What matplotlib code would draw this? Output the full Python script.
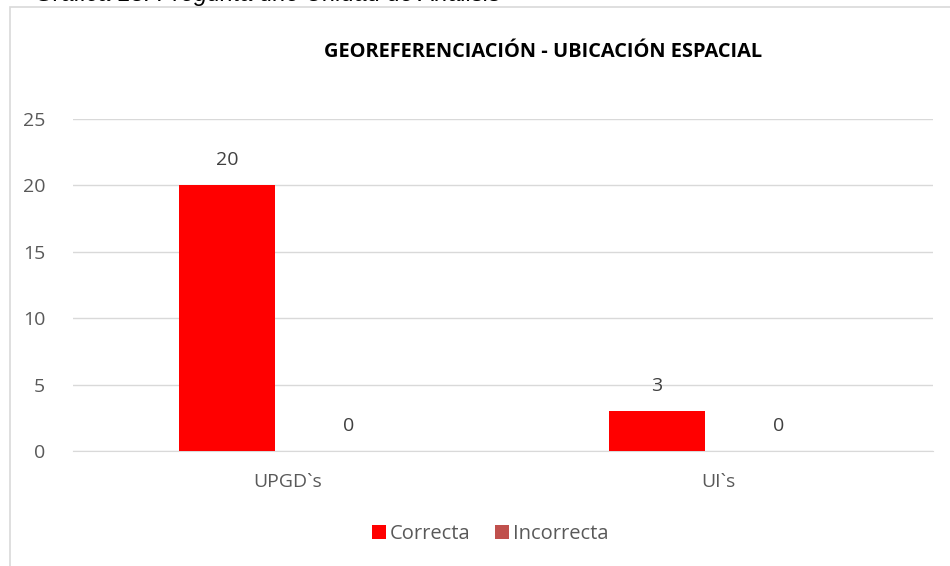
import matplotlib.pyplot as plt
from matplotlib.patches import Rectangle
import numpy as np

categories = ["UPGD`s", "UI`s"]
correcta = [20, 3]
incorrecta = [0, 0]
series_names = ["Correcta", "Incorrecta"]
yticks = [0, 5, 10, 15, 20, 25]

plt.rcParams['font.family'] = ['Open Sans', 'DejaVu Sans']

fig = plt.figure(figsize=(9.5, 5.66), dpi=100)
fig.patches.append(Rectangle((10 / 950, -0.1), 1, 1.1 - 7 / 566, transform=fig.transFigure,
                             facecolor='white', edgecolor='#d9d9d9', linewidth=1.2, zorder=-5))
fig.text(35 / 950, 1.0 + 5 / 566, "Gráfica 18. Pregunta uno Unidad de Análisis", fontsize=17,
         family=['Liberation Sans'], style='italic', va='center', ha='left', color='black')

ax = fig.add_axes([73 / 950, 1 - 451 / 566, 860 / 950, (451 - 119) / 566])
ax.set_facecolor('none')
x = np.arange(len(categories))
w = 0.223
off = 0.142
b1 = ax.bar(x - off, correcta, w, color='#ff0000', label=series_names[0], zorder=3)
b2 = ax.bar(x + off, incorrecta, w, color='#c0504d', label=series_names[1], zorder=3)
for bars, vals in ((b1, correcta), (b2, incorrecta)):
    for b, v in zip(bars, vals):
        ax.text(b.get_x() + b.get_width() / 2, v + 1.9, str(v), ha='center', va='center',
                fontsize=14, color='#404040')

ax.set_xlim(-0.5, 1.5)
ax.set_ylim(0, 25)
ax.set_yticks(yticks)
ax.set_xticks(x)
ax.set_xticklabels(categories)
ax.tick_params(axis='both', length=0, labelsize=14, labelcolor='#595959')
ax.tick_params(axis='y', pad=20)
ax.tick_params(axis='x', pad=16)
ax.grid(axis='y', color='#d9d9d9', linewidth=1, zorder=0)
for s in ['top', 'right', 'left']:
    ax.spines[s].set_visible(False)
ax.spines['bottom'].set_color('#d9d9d9')

fig.text(543 / 950, 1 - 52 / 566, "GEOREFERENCIACIÓN - UBICACIÓN ESPACIAL", ha='center', va='center',
         fontsize=14.4, fontweight='bold', color='black')

fig.legend(handles=[b1, b2], loc='center', bbox_to_anchor=(490 / 950, 1 - 534 / 566), ncol=2,
           frameon=False, fontsize=14.5, labelcolor='#595959', handlelength=0.7, handleheight=0.7,
           handletextpad=0.2, columnspacing=1.2)

fig.savefig("out.png", dpi=100)
